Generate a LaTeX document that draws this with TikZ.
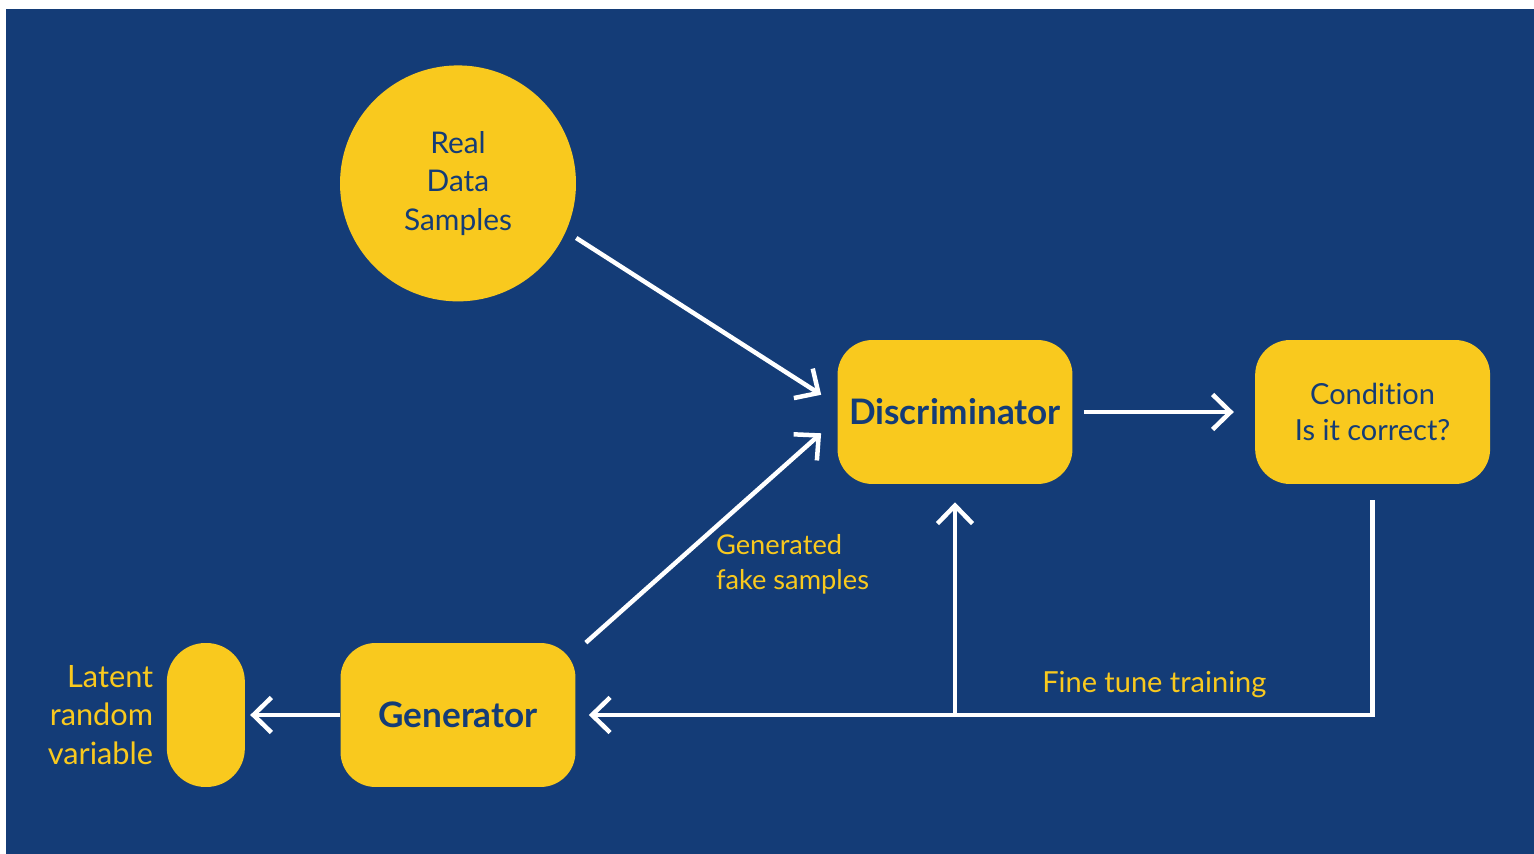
\documentclass[tikz,border=0pt]{standalone}
\usepackage{fontspec}
\setmainfont{Lato}[Ligatures=NoCommon]
\usetikzlibrary{positioning,arrows.meta,calc}
\definecolor{GanBlue}{RGB}{20,60,119}
\definecolor{GanYellow}{RGB}{249,201,30}

\begin{document}
\begin{tikzpicture}[
    x=0.02cm, y=-0.02cm,
    block/.style={rectangle, rounded corners=0.7cm, fill=GanYellow,
        minimum width=4.7cm, minimum height=2.88cm, text=GanBlue, align=center},
    title/.style={block, font=\fontsize{20}{24}\selectfont\bfseries},
    plain/.style={block, font=\fontsize{16.5}{20.5}\selectfont},
    flow/.style={-{Straight Barb[length=0.36cm, width=0.7cm]}, line width=0.09cm, white},
    note/.style={font=\fontsize{16.5}{21}\selectfont, text=GanYellow, inner sep=0pt},
]
\useasboundingbox (0,0) rectangle (1534,854);
\fill[GanBlue] (6,9) rectangle (1534,854);

\node[title] (disc) at (955,412) {Discriminator};
\node[plain, right=3.64cm of disc] (cond) {Condition\\Is it correct?};
\node[title] (gen) at (458,715) {Generator};
\node[circle, fill=GanYellow, minimum size=4.72cm, inner sep=0pt, text=GanBlue,
    align=center, font=\fontsize{17}{22}\selectfont, above=6.82cm of gen] (real) {Real\\Data\\Samples};
\node[rectangle, rounded corners=0.77cm, fill=GanYellow, minimum width=1.56cm,
    minimum height=2.88cm, left=1.9cm of gen] (latent) {};
\node[note, align=right, left=0.26cm of latent, font=\fontsize{17.5}{22}\selectfont] (latentlbl) {Latent\\random\\variable};

\draw[flow, shorten <=0.24cm, shorten >=0.38cm] (real.-24) -- ([yshift=0.14cm]disc.west);
\draw[flow, shorten >=0.43cm] ([xshift=0.2cm]gen.north east) -- ([yshift=-0.14cm]disc.west)
    node[note, pos=0.35, anchor=west, xshift=0.8cm, align=left, font=\fontsize{15.5}{19.5}\selectfont] {Generated\\fake samples};
\draw[flow, shorten <=0.32cm, shorten >=0.26cm] (cond.south) |- (gen.east)
    node[note, pos=0.637, above=0.3cm] {Fine tune training};
\draw[flow, shorten <=0.22cm, shorten >=0.42cm] (disc) -- (cond);
\coordinate (fork) at (disc.south |- gen.east);
\draw[flow, shorten >=0.36cm] (fork) -- (disc.south);
\draw[flow, shorten >=0.1cm] (gen.west) -- (latent.east);
\end{tikzpicture}
\end{document}
